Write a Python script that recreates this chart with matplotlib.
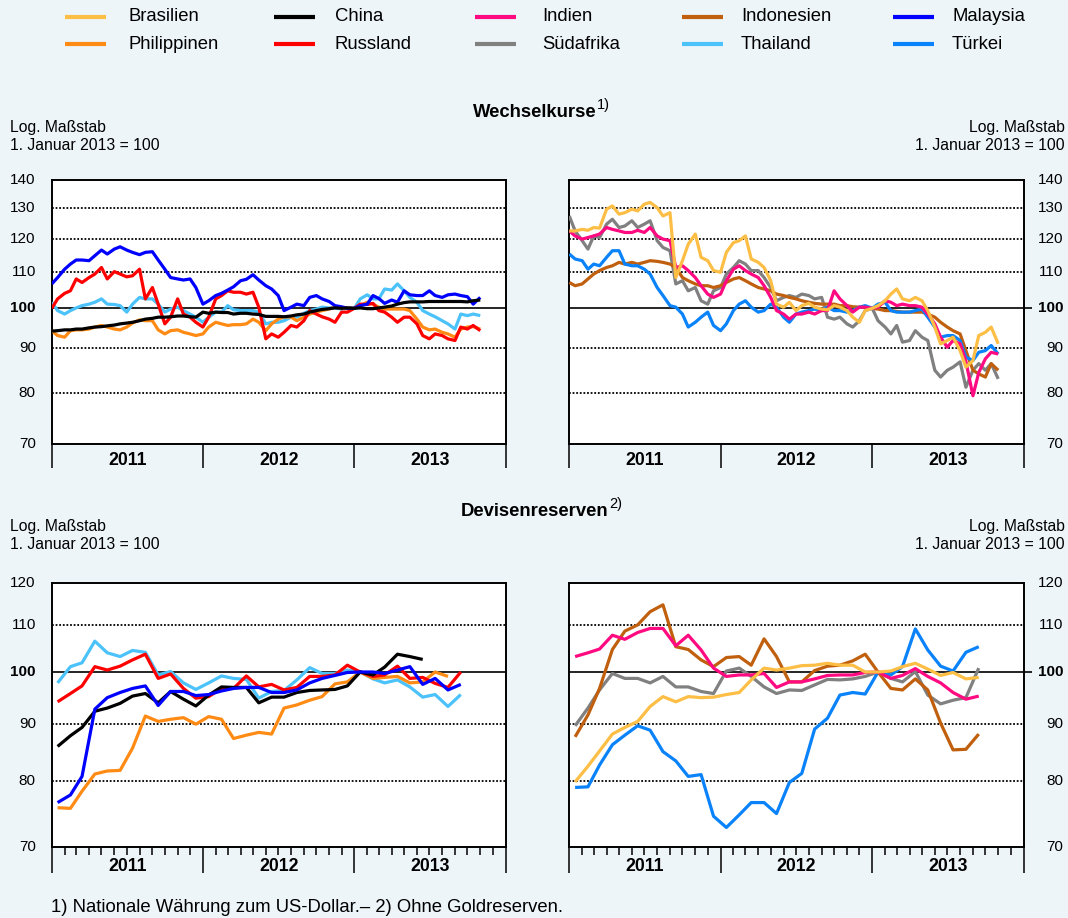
import matplotlib
matplotlib.use('Agg')
import matplotlib.pyplot as plt
import matplotlib.transforms as mtransforms
from matplotlib.lines import Line2D
from matplotlib.ticker import FixedLocator, NullLocator, NullFormatter
import matplotlib.dates as mdates
import pandas as pd

plt.rcParams['font.family'] = ['Liberation Sans', 'DejaVu Sans']

# ---------------- data ----------------
# semi-monthly readings of the daily exchange-rate series (1 Jan 2011 .. 1 Nov 2013)
fx_dates = pd.date_range('2011-01-01', periods=69, freq='SMS')

malaysia_fx = [106.6, 108.4, 110.8, 112.3, 113.5, 113.5, 113.3, 114.8, 116.5, 115.3,
               116.8, 117.5, 116.5, 115.8, 115.1, 115.8, 116.0, 113.5, 110.8, 108.4,
               108.0, 107.7, 108.0, 105.6, 101.1, 102.0, 103.4, 104.0, 104.9, 105.8,
               107.5, 107.9, 109.2, 107.7, 106.1, 105.2, 103.4, 99.4, 100.3, 101.1,
               100.7, 102.9, 103.4, 102.5, 101.8, 100.7, 100.4, 100.0, 100.0, 100.7,
               101.1, 103.4, 102.6, 101.3, 102.2, 101.6, 104.7, 103.6, 103.4, 103.4,
               104.7, 103.4, 102.9, 103.6, 103.8, 103.4, 103.1, 101.1, 102.9]
russland_fx = [100.0, 102.5, 104.0, 104.7, 108.0, 107.0, 108.4, 109.4, 111.3, 108.0,
               110.1, 109.4, 108.6, 108.9, 110.8, 102.5, 105.6, 101.1, 96.0, 97.7,
               102.5, 98.5, 97.7, 96.4, 95.2, 97.7, 102.5, 103.4, 104.7, 104.3,
               104.3, 103.8, 104.3, 100.3, 92.3, 93.5, 92.7, 93.9, 95.6, 95.2,
               96.8, 99.4, 98.5, 97.8, 97.2, 96.4, 99.0, 99.0, 100.0, 101.1,
               101.0, 101.3, 99.4, 99.0, 97.7, 96.4, 97.7, 97.7, 96.0, 93.1,
               92.3, 93.5, 93.1, 92.3, 91.9, 95.2, 94.7, 95.6, 94.3]
thailand_fx = [101.6, 99.4, 98.5, 99.4, 100.1, 100.7, 101.1, 101.6, 102.5, 101.1,
               101.0, 100.7, 99.0, 101.1, 102.9, 102.5, 102.5, 101.1, 99.0, 99.8,
               100.3, 99.4, 98.5, 97.7, 96.4, 97.7, 99.0, 99.0, 100.7, 99.6,
               99.4, 99.4, 99.4, 99.0, 96.0, 96.4, 96.4, 96.8, 97.7, 97.7,
               98.7, 99.4, 99.8, 100.3, 100.1, 100.1, 99.8, 100.0, 100.0, 102.5,
               103.6, 102.5, 102.5, 105.2, 104.9, 106.6, 104.7, 102.9, 101.6, 99.4,
               98.5, 97.8, 96.8, 96.0, 94.7, 98.5, 98.1, 98.5, 98.1]
china_fx = [94.2, 94.3, 94.5, 94.5, 94.7, 94.7, 95.0, 95.2, 95.3, 95.5,
            95.7, 96.0, 96.2, 96.4, 96.8, 97.2, 97.4, 97.7, 97.7, 97.8,
            98.0, 98.0, 97.8, 97.7, 99.0, 98.7, 99.0, 98.9, 98.9, 98.5,
            98.7, 98.7, 98.5, 98.4, 97.9, 97.9, 97.9, 97.8, 98.0, 98.3,
            98.5, 99.0, 99.4, 99.7, 99.9, 100.1, 100.0, 100.1, 100.0, 100.1,
            99.9, 99.9, 100.1, 100.3, 100.6, 101.1, 101.5, 101.7, 101.7, 101.7,
            101.8, 101.8, 101.8, 101.8, 101.8, 101.8, 101.7, 102.0, 102.2]
philippinen_fx = [94.3, 93.1, 92.7, 94.3, 94.5, 94.5, 94.7, 95.2, 95.6, 95.2,
                  94.7, 94.5, 95.2, 96.2, 97.0, 96.8, 96.8, 94.5, 93.5, 94.3,
                  94.5, 93.9, 93.5, 93.1, 93.5, 95.2, 96.4, 96.0, 95.6, 95.8,
                  95.8, 96.0, 97.2, 96.4, 94.3, 96.0, 97.2, 97.8, 97.7, 96.8,
                  97.7, 98.5, 99.0, 99.4, 99.8, 100.3, 100.1, 100.1, 100.0, 100.7,
                  101.6, 101.1, 100.3, 99.8, 99.8, 99.8, 99.8, 99.4, 97.2, 95.2,
                  94.5, 94.7, 93.9, 93.5, 92.7, 94.7, 95.2, 95.3, 94.7]

brasilien_fx = [122.5, 122.5, 123.0, 122.7, 123.6, 123.4, 129.7, 130.8, 128.0, 128.5,
                129.7, 129.1, 131.4, 132.0, 130.2, 127.4, 128.5, 108.4, 113.3, 118.3,
                121.5, 114.3, 113.3, 110.4, 109.9, 115.8, 118.8, 119.4, 120.9, 113.8,
                112.8, 111.3, 107.5, 101.1, 100.3, 101.6, 99.4, 100.7, 101.3, 100.3,
                99.8, 99.6, 100.7, 100.3, 99.4, 97.7, 96.4, 99.4, 100.0, 100.7,
                102.0, 103.8, 105.2, 102.5, 102.0, 102.9, 102.0, 99.4, 95.2, 91.1,
                91.9, 92.7, 89.5, 85.7, 87.2, 93.1, 93.9, 95.2, 91.1]
indien_fx = [122.5, 120.9, 119.9, 120.4, 120.9, 121.5, 123.6, 123.0, 122.5, 122.0,
             122.0, 122.7, 122.0, 123.6, 120.9, 119.9, 119.4, 111.3, 111.8, 110.4,
             108.4, 106.1, 103.8, 102.9, 103.8, 107.5, 110.8, 111.8, 110.4, 109.4,
             108.4, 106.1, 102.9, 99.4, 98.5, 97.2, 98.5, 98.5, 99.0, 98.5,
             99.4, 99.4, 104.7, 102.5, 100.7, 99.0, 100.3, 100.3, 100.0, 100.3,
             102.0, 101.6, 100.7, 101.1, 100.7, 100.7, 100.3, 98.5, 96.0, 92.7,
             90.3, 91.9, 91.1, 87.0, 79.5, 84.5, 87.6, 89.1, 88.7]
tuerkei_fx = [115.3, 113.8, 113.3, 110.8, 112.3, 111.8, 114.3, 116.3, 116.3, 112.3,
              111.8, 111.8, 110.8, 109.4, 105.6, 103.4, 100.7, 100.3, 98.5, 95.2,
              96.4, 97.7, 99.0, 95.6, 94.3, 96.0, 99.4, 101.1, 102.0, 100.3,
              99.0, 99.4, 101.1, 100.3, 97.7, 96.4, 98.5, 99.0, 99.4, 99.8,
              99.4, 100.3, 99.4, 99.4, 99.0, 99.4, 100.3, 100.7, 100.0, 101.1,
              101.6, 99.4, 99.0, 99.0, 99.0, 99.4, 99.8, 97.7, 95.2, 92.7,
              93.1, 93.1, 91.9, 88.0, 87.2, 89.1, 89.5, 90.7, 88.7]
indonesien_fx = [107.0, 106.1, 106.6, 108.0, 109.4, 110.4, 111.3, 111.8, 112.8, 112.3,
                 112.8, 112.3, 112.8, 113.3, 113.1, 112.8, 112.3, 111.3, 108.4, 107.5,
                 106.6, 106.1, 106.1, 105.6, 106.1, 107.0, 108.0, 108.4, 107.5, 106.6,
                 105.6, 105.2, 104.7, 103.8, 103.4, 102.9, 102.5, 102.0, 101.6, 101.3,
                 101.1, 101.1, 101.1, 100.7, 100.7, 100.4, 100.3, 100.3, 100.0, 99.8,
                 99.4, 99.4, 99.2, 99.0, 99.0, 99.0, 99.0, 98.5, 97.7, 96.4,
                 95.2, 94.3, 93.5, 89.5, 85.0, 84.2, 83.5, 86.5, 85.0]
suedafrika_fx = [127.4, 122.5, 119.4, 116.8, 120.9, 120.4, 124.7, 126.3, 123.6, 124.1,
                 125.8, 123.6, 124.7, 125.8, 119.4, 117.3, 116.3, 106.6, 107.5, 104.7,
                 105.6, 102.0, 101.1, 104.7, 105.6, 109.4, 111.3, 113.3, 112.3, 110.4,
                 110.4, 108.4, 105.6, 102.0, 102.9, 103.4, 102.9, 103.8, 103.4, 102.5,
                 102.9, 97.7, 97.2, 97.7, 96.0, 95.2, 96.8, 99.4, 100.0, 96.8,
                 95.2, 93.5, 95.6, 91.5, 91.9, 94.3, 92.7, 91.9, 85.0, 83.5,
                 85.0, 85.7, 86.9, 81.3, 85.0, 86.5, 85.0, 86.5, 83.1]

# monthly foreign-exchange reserves (Jan 2011 .. Sep 2013)
res_dates = [pd.Timestamp(2011 + i // 12, i % 12 + 1, 15) for i in range(33)]

thailand_res = [97.8, 101.1, 101.9, 106.5, 104.0, 103.2, 104.5, 104.1, 99.4, 100.1,
                97.8, 96.5, 97.8, 99.2, 98.7, 98.5, 94.8, 96.1, 96.3, 98.4,
                100.9, 99.7, 99.7, 100.4, 100.0, 98.6, 97.8, 98.4, 97.0, 95.0,
                95.5, 93.2, 95.5]
russland_res = [94.1, 95.7, 97.2, 101.1, 100.4, 101.2, 102.5, 103.7, 98.7, 99.6,
                96.7, 94.8, 95.1, 96.7, 96.7, 99.2, 97.0, 97.5, 96.4, 96.9,
                99.1, 99.1, 99.4, 101.4, 100.0, 99.1, 99.4, 101.2, 98.7, 98.9,
                97.7, 96.9, 100.0]
malaysia_res = [76.6, 77.8, 80.8, 92.7, 94.9, 95.9, 96.7, 97.2, 93.4, 96.1,
                96.1, 95.3, 95.5, 96.2, 96.7, 96.9, 96.9, 95.9, 95.9, 96.4,
                97.8, 98.7, 99.3, 99.9, 100.0, 100.0, 99.7, 100.4, 101.1, 97.5,
                98.7, 96.4, 97.5]
china_res = [85.9, 87.8, 89.3, 92.3, 92.9, 93.8, 95.2, 95.7, 93.9, 96.1,
             94.6, 93.3, 95.4, 97.0, 96.9, 96.9, 93.9, 95.0, 95.0, 95.9,
             96.3, 96.4, 96.5, 97.2, 100.0, 99.4, 101.0, 103.7, 103.2, 102.6]
philippinen_res = [75.8, 75.7, 78.4, 81.2, 81.7, 81.8, 85.6, 91.4, 90.4, 90.8,
                   91.1, 89.9, 91.3, 90.8, 87.3, 87.9, 88.4, 88.1, 92.9, 93.5,
                   94.4, 95.1, 97.6, 98.0, 100.0, 98.7, 98.9, 99.1, 97.8, 98.0,
                   100.0, 99.1]

tuerkei_res = [79.0, 79.1, 82.7, 86.2, 87.9, 89.6, 88.8, 85.0, 83.4, 80.8,
               81.1, 74.5, 72.8, 74.7, 76.6, 76.6, 74.9, 79.8, 81.3, 89.0,
               91.0, 95.4, 95.9, 95.6, 100.0, 99.4, 101.1, 109.2, 104.6, 101.2,
               100.2, 104.1, 105.3]
indonesien_res = [87.6, 91.6, 96.7, 104.7, 108.7, 110.1, 113.1, 114.7, 105.3, 104.7,
                  102.5, 101.1, 103.0, 103.2, 101.4, 107.0, 103.2, 98.0, 98.0, 100.3,
                  101.2, 101.4, 102.3, 103.7, 100.0, 96.7, 96.4, 98.6, 96.4, 90.1,
                  85.3, 85.4, 88.1]
indien_res = [103.2, 104.0, 104.8, 107.8, 106.9, 108.4, 109.3, 109.3, 105.5, 107.8,
              104.6, 100.8, 99.1, 99.4, 99.4, 99.7, 96.9, 98.0, 98.0, 98.6,
              99.3, 99.4, 99.4, 99.9, 100.0, 98.7, 99.3, 100.7, 99.1, 97.8,
              95.9, 94.6, 95.2]
suedafrika_res = [89.6, 92.9, 96.4, 99.7, 98.7, 98.7, 97.8, 99.1, 97.0, 97.0,
                  96.1, 95.7, 100.2, 100.8, 99.1, 97.0, 95.7, 96.4, 96.3, 97.4,
                  98.5, 98.4, 98.6, 99.1, 100.0, 98.7, 98.0, 100.1, 95.4, 93.7,
                  94.4, 94.9, 100.8]
brasilien_res = [79.9, 82.5, 85.1, 88.1, 89.3, 90.4, 93.2, 95.1, 94.1, 95.1,
                 94.9, 95.0, 95.5, 95.9, 98.4, 100.8, 100.4, 100.8, 101.3, 101.4,
                 101.8, 101.4, 101.4, 100.0, 100.0, 100.2, 101.1, 101.8, 100.6, 99.3,
                 99.9, 98.6, 98.9]

legend_names = ['Brasilien', 'China', 'Indien', 'Indonesien', 'Malaysia',
                'Philippinen', 'Russland', 'Südafrika', 'Thailand', 'Türkei']
colors = {
    'Brasilien': '#FDBE45', 'China': '#000000', 'Indien': '#FF0A80',
    'Indonesien': '#C0600E', 'Malaysia': '#0000FF', 'Philippinen': '#FF8A14',
    'Russland': '#FF0000', 'Südafrika': '#808080', 'Thailand': '#4CC2FA',
    'Türkei': '#0A82FA',
}

fx_left = [('Thailand', thailand_fx), ('Philippinen', philippinen_fx),
           ('Russland', russland_fx), ('Malaysia', malaysia_fx), ('China', china_fx)]
fx_right = [('Südafrika', suedafrika_fx), ('Indonesien', indonesien_fx),
            ('Türkei', tuerkei_fx), ('Indien', indien_fx), ('Brasilien', brasilien_fx)]
res_left = [('Thailand', thailand_res), ('Philippinen', philippinen_res),
            ('Russland', russland_res), ('China', china_res), ('Malaysia', malaysia_res)]
res_right = [('Südafrika', suedafrika_res), ('Türkei', tuerkei_res),
             ('Indonesien', indonesien_res), ('Indien', indien_res), ('Brasilien', brasilien_res)]

fx_ticks = [70, 80, 90, 100, 110, 120, 130, 140]
res_ticks = [70, 80, 90, 100, 110, 120]
years = [2011, 2012, 2013]

# ---------------- layout ----------------
W, H = 1068, 918
BG = '#EDF5F9'
FS = 13.3
fig = plt.figure(figsize=(W / 100, H / 100), dpi=100, facecolor=BG)


def px_rect(x0, y0, x1, y1):
    return [x0 / W, 1 - y1 / H, (x1 - x0) / W, (y1 - y0) / H]


def setup(ax, ticks, side, monthly, year_off):
    ax.set_facecolor('white')
    ax.set_yscale('log')
    ax.set_ylim(ticks[0], ticks[-1])
    ax.set_xlim(pd.Timestamp('2011-01-01'), pd.Timestamp('2014-01-01'))
    for s in ax.spines.values():
        s.set_linewidth(1.4)
        s.set_color('black')
    for t in ticks[1:-1]:
        if t == 100:
            ax.axhline(t, color='black', lw=1.2, zorder=2)
        else:
            ax.axhline(t, color='black', lw=1.3, ls=(0, (1.0, 1.0)), zorder=2)
    # y axis: labels drawn as text, only a small outer tick at 100 on the right panels
    ax.yaxis.set_minor_locator(NullLocator())
    ax.yaxis.set_minor_formatter(NullFormatter())
    ax.yaxis.set_major_locator(FixedLocator([100]))
    ax.yaxis.set_major_formatter(NullFormatter())
    if side == 'right':
        ax.yaxis.set_ticks_position('right')
        ax.tick_params(axis='y', which='major', length=5.8, width=1.2, direction='out')
    else:
        ax.tick_params(axis='y', which='major', length=0)
    # x axis: year separators and monthly ticks
    ax.xaxis.set_major_locator(mdates.YearLocator())
    ax.xaxis.set_major_formatter(NullFormatter())
    ax.tick_params(axis='x', which='major', length=17 if not monthly else 19,
                   width=1.1, direction='out')
    if monthly:
        ax.xaxis.set_minor_locator(mdates.MonthLocator())
        ax.tick_params(axis='x', which='minor', length=5.4, width=1.1, direction='out')
    else:
        ax.xaxis.set_minor_locator(NullLocator())
    ax.xaxis.set_minor_formatter(NullFormatter())

    trans_y = mtransforms.blended_transform_factory(ax.transAxes, ax.transData)
    if side == 'left':
        tr = mtransforms.offset_copy(trans_y, fig=fig, x=-16, y=0, units='dots')
        xpos = 0
    else:
        tr = mtransforms.offset_copy(trans_y, fig=fig, x=40, y=0, units='dots')
        xpos = 1
    for t in ticks:
        ax.text(xpos, t, str(t), transform=tr, ha='right', va='center', fontsize=11,
                fontweight='bold' if t == 100 else 'normal', clip_on=False)
    trans_x = mtransforms.blended_transform_factory(ax.transData, ax.transAxes)
    tr = mtransforms.offset_copy(trans_x, fig=fig, x=0, y=-year_off, units='dots')
    for yr in years:
        ax.text(pd.Timestamp(yr, 7, 2), 0, str(yr), transform=tr, ha='center', va='center',
                fontsize=12.7, fontweight='bold', clip_on=False)


ax_tl = fig.add_axes(px_rect(51.8, 180, 505.5, 444.3))
ax_tr = fig.add_axes(px_rect(569.3, 180, 1023.5, 444.3))
ax_bl = fig.add_axes(px_rect(51.8, 582.7, 505.5, 846.7))
ax_br = fig.add_axes(px_rect(569.3, 582.7, 1023.5, 846.7))

setup(ax_tl, fx_ticks, 'left', False, 16)
setup(ax_tr, fx_ticks, 'right', False, 16)
setup(ax_bl, res_ticks, 'left', True, 20)
setup(ax_br, res_ticks, 'right', True, 20)

for ax, series, dates in [(ax_tl, fx_left, fx_dates), (ax_tr, fx_right, fx_dates),
                          (ax_bl, res_left, res_dates), (ax_br, res_right, res_dates)]:
    for name, vals in series:
        ax.plot(dates[:len(vals)], vals, color=colors[name], lw=2.3, zorder=3,
                solid_joinstyle='round', solid_capstyle='butt')

# ---------------- legend ----------------
col_handle = [(65, 106), (274, 315), (475, 516), (682, 723), (893, 934)]
col_label = [129, 335, 542, 741, 952]
row_y = [16.7, 44.3]
for i, name in enumerate(legend_names):
    r, c = divmod(i, 5)
    x0, x1 = col_handle[c]
    y = 1 - row_y[r] / H
    fig.add_artist(Line2D([x0 / W, x1 / W], [y, y], transform=fig.transFigure,
                          color=colors[name], lw=3.0, solid_capstyle='butt'))
    fig.text(col_label[c] / W, y, name, fontsize=FS, ha='left', va='center')

# ---------------- titles and notes ----------------
def title(text, sup, ypx):
    t = fig.text(535 / W, 1 - ypx / H, text, fontsize=FS, fontweight='bold',
                 ha='center', va='center')
    ax_tl.annotate(sup, xy=(1.0, 0.5), xycoords=t, xytext=(0.3, 0),
                   textcoords='offset points', fontsize=10.5, ha='left', va='bottom',
                   annotation_clip=False)


title('Wechselkurse', '1)', 112.5)
title('Devisenreserven', '2)', 511)

for ytop in (127.5, 526):
    fig.text(10 / W, 1 - ytop / H, 'Log. Maßstab', fontsize=11.3, ha='left', va='center')
    fig.text(10 / W, 1 - (ytop + 18.5) / H, '1. Januar 2013 = 100', fontsize=11.3,
             ha='left', va='center')
    fig.text(1065 / W, 1 - ytop / H, 'Log. Maßstab', fontsize=11.3, ha='right', va='center')
    fig.text(1065 / W, 1 - (ytop + 18.5) / H, '1. Januar 2013 = 100', fontsize=11.3,
             ha='right', va='center')

fig.text(51 / W, 1 - 907 / H, '1) Nationale Währung zum US-Dollar.– 2) Ohne Goldreserven.',
         fontsize=FS, ha='left', va='center')

fig.savefig('out.png', dpi=100, facecolor=BG)
